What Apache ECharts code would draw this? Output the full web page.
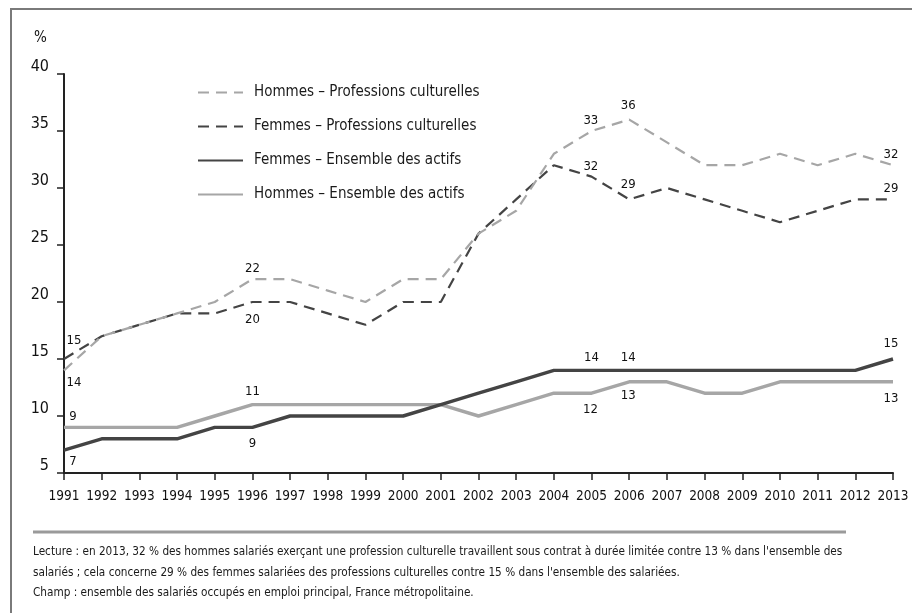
<!DOCTYPE html>
<html>
<head>
<meta charset="utf-8">
<script src="https://cdn.jsdelivr.net/npm/echarts@6/dist/echarts.min.js"></script>
<style>
  html, body { margin: 0; padding: 0; background: #fff; }
  #chart { width: 912px; height: 613px; }
</style>
</head>
<body>
<div id="chart"></div>
<script>
// années
const years = ['1991', '1992', '1993', '1994', '1995', '1996', '1997', '1998', '1999', '2000', '2001', '2002',
  '2003', '2004', '2005', '2006', '2007', '2008', '2009', '2010', '2011', '2012', '2013'];

// part des CDD (%)
const hommesCulture = [14, 17, 18, 19, 20, 22, 22, 21, 20, 22, 22, 26, 28, 33, 35, 36, 34, 32, 32, 33, 32, 33, 32];
const femmesCulture = [15, 17, 18, 19, 19, 20, 20, 19, 18, 20, 20, 26, 29, 32, 31, 29, 30, 29, 28, 27, 28, 29, 29];
const femmesActifs = [7, 8, 8, 8, 9, 9, 10, 10, 10, 10, 11, 12, 13, 14, 14, 14, 14, 14, 14, 14, 14, 14, 15];
const hommesActifs = [9, 9, 9, 9, 10, 11, 11, 11, 11, 11, 11, 10, 11, 12, 12, 13, 13, 12, 12, 13, 13, 13, 13];

const yTicks = [5, 10, 15, 20, 25, 30, 35, 40];

const seriesNames = [
  'Hommes – Professions culturelles',
  'Femmes – Professions culturelles',
  'Femmes – Ensemble des actifs',
  'Hommes – Ensemble des actifs'
];

const noteLines = [
  'Lecture : en 2013, 32 % des hommes salariés exerçant une profession culturelle travaillent sous contrat à durée limitée contre 13 % dans l\'ensemble des',
  'salariés ; cela concerne 29 % des femmes salariées des professions culturelles contre 15 % dans l\'ensemble des salariées.',
  'Champ : ensemble des salariés occupés en emploi principal, France métropolitaine.'
];

// placement des étiquettes : index -> décalage [x, y]
const labelPlaces = [
  { 0: [10, 12], 5: [0, -11], 13: [37, -33], 15: [-1, -14], 22: [-2, -11] },
  { 0: [10, -18], 5: [0, 18], 13: [37, 1], 15: [-1, -15], 22: [-2, -11] },
  { 0: [9, 11], 5: [0, 16], 14: [0, -13], 15: [-1, -13], 22: [-2, -15] },
  { 0: [9, -11], 5: [0, -13], 14: [-1, 16], 15: [-1, 14], 22: [-2, 17] }
];

const FONT = '"Liberation Sans Narrow", "DejaVu Sans Condensed", "Roboto", sans-serif';
const LIGHT = '#a6a6a6';
const DARK = '#444444';

function buildData(values, places) {
  return values.map((v, i) => {
    if (places[i]) {
      return {
        value: v,
        label: { show: true, offset: places[i] }
      };
    }
    return v;
  });
}

const allValues = [hommesCulture, femmesCulture, femmesActifs, hommesActifs];
const styles = [
  { color: LIGHT, width: 2.2, type: [11, 7] },
  { color: DARK, width: 2.2, type: [11, 7] },
  { color: DARK, width: 3.4, type: 'solid' },
  { color: LIGHT, width: 3.4, type: 'solid' }
];

const chart = echarts.init(document.getElementById('chart'));

const option = {
  backgroundColor: '#fff',
  animation: false,
  textStyle: { fontFamily: FONT },
  grid: { left: 64, right: 19, top: 74, bottom: 140, containLabel: false },
  legend: {
    orient: 'vertical',
    left: 192,
    top: 80,
    itemWidth: 45,
    itemHeight: 14,
    itemGap: 19,
    data: seriesNames,
    itemStyle: { opacity: 0 },
    textStyle: { fontFamily: FONT, fontSize: 15, color: '#1a1a1a', padding: [0, 0, 0, 6] }
  },
  xAxis: {
    type: 'category',
    data: years,
    boundaryGap: false,
    axisLine: { lineStyle: { color: '#222', width: 2 } },
    axisTick: { show: true, length: 7, interval: 0, lineStyle: { color: '#222', width: 1.5 } },
    axisLabel: { fontFamily: FONT, fontSize: 13.5, color: '#111', margin: 16, interval: 0, hideOverlap: false },
    splitLine: { show: false }
  },
  yAxis: {
    type: 'value',
    min: yTicks[0],
    max: yTicks[yTicks.length - 1],
    interval: 5,
    axisLine: { show: true, lineStyle: { color: '#222', width: 2 } },
    axisTick: { show: true, length: 7, lineStyle: { color: '#222', width: 1.5 } },
    axisLabel: {
      fontFamily: FONT, fontSize: 16, color: '#111', margin: 15,
      verticalAlign: 'bottom', lineHeight: 14
    },
    splitLine: { show: false }
  },
  graphic: [
    {
      type: 'rect',
      shape: { x: 11, y: 9, width: 1000, height: 700 },
      style: { fill: 'none', stroke: '#7a7a7a', lineWidth: 2 },
      silent: true
    },
    {
      type: 'text',
      left: 34,
      top: 31,
      style: { text: '%', font: '15px ' + FONT, fill: '#111' }
    },
    {
      type: 'line',
      shape: { x1: 33, y1: 532, x2: 846, y2: 532 },
      style: { stroke: '#9a9a9a', lineWidth: 3 }
    },
    ...noteLines.map((t, i) => ({
      type: 'text',
      left: 33,
      top: [546, 567, 587][i],
      style: { text: t, font: '11.7px ' + FONT, fill: '#1a1a1a' }
    }))
  ],
  series: seriesNames.map((name, k) => ({
    name: name,
    type: 'line',
    data: buildData(allValues[k], labelPlaces[k]),
    symbol: 'circle',
    symbolSize: 0,
    showSymbol: true,
    itemStyle: { color: styles[k].color },
    lineStyle: { color: styles[k].color, width: styles[k].width, type: styles[k].type },
    label: {
      show: false,
      position: 'inside',
      formatter: '{c}',
      fontFamily: FONT,
      fontSize: 13,
      color: '#111'
    },
    z: 4 - k
  }))
};

chart.setOption(option);
</script>
</body>
</html>
